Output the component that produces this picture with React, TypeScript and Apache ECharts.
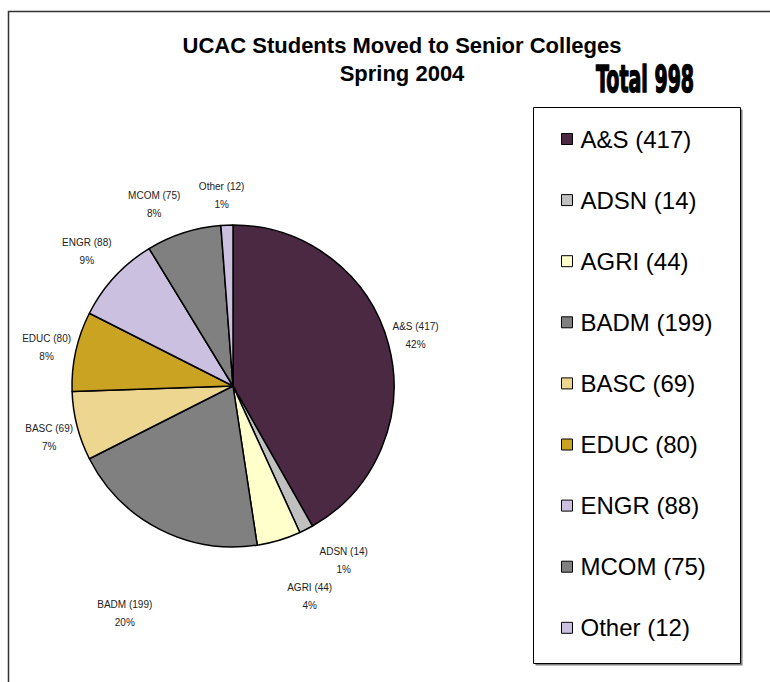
import React, { useEffect, useRef } from "react";
import * as echarts from "echarts";

const CATEGORIES = ["A&S", "ADSN", "AGRI", "BADM", "BASC", "EDUC", "ENGR", "MCOM", "Other"];
const VALUES = [417, 14, 44, 199, 69, 80, 88, 75, 12];
const COLORS = ["#4B2943", "#C0C0C0", "#FFFFCC", "#808080", "#EDD790", "#C9A321", "#CBC0DF", "#808080", "#CBC0DF"];
const TITLE = "UCAC Students Moved to Senior Colleges\nSpring 2004";
const TOTAL_TEXT = "Total 998";

// layout constants
const CX = 233;
const CY = 386;
const R = 161;
const LABEL_DIST = 195;
// small nudges of each slice label away from its radial anchor (layout only)
const LABEL_NUDGE = [
  [-6, -1],
  [22, 1],
  [21, 24],
  [-19, 54],
  [5, 3],
  [4, 4],
  [-3, -2],
  [-19, 4],
  [-4, 4],
];

export default function App() {
  const ref = useRef<HTMLDivElement>(null);
  useEffect(() => {
    if (!ref.current) return;
    const chart = echarts.init(ref.current, null, { renderer: "svg" });
    const total = VALUES.reduce((a, b) => a + b, 0);
    const font = "'Liberation Sans', Arial, sans-serif";
    chart.setOption({
      animation: false,
      backgroundColor: "#ffffff",
      title: {
        text: TITLE,
        left: 397,
        top: 26,
        textAlign: "center",
        textStyle: { fontFamily: font, fontSize: 22, fontWeight: "bold", color: "#000", lineHeight: 28 },
      },
      graphic: [
        {
          type: "rect",
          shape: { x: 8.5, y: 11.5, width: 900, height: 900 },
          style: { fill: "none", stroke: "#333", lineWidth: 1.5 },
          silent: true,
        },
        {
          type: "rect",
          shape: { x: 535.5, y: 109.5, width: 207, height: 556 },
          style: { fill: "#808080" },
          silent: true,
          z: -1,
        },
        {
          type: "rect",
          shape: { x: 533.5, y: 107.5, width: 207, height: 556 },
          style: { fill: "#fff", stroke: "#000", lineWidth: 1 },
          silent: true,
          z: -1,
        },
        {
          type: "text",
          x: 645,
          y: 79,
          scaleX: 0.5,
          style: {
            text: TOTAL_TEXT,
            fontFamily: "'DejaVu Sans', sans-serif",
            fontWeight: "bold",
            fontSize: 38,
            fill: "#000",
            stroke: "#000",
            lineWidth: 1.6,
            textAlign: "center",
            textVerticalAlign: "middle",
          },
        },
      ],
      legend: {
        orient: "vertical",
        left: 556,
        top: 122,
        itemWidth: 11,
        itemHeight: 11,
        itemGap: 37.1,
        icon: "rect",
        itemStyle: { borderColor: "#000", borderWidth: 1 },
        formatter: (name: string) => `${name} (${VALUES[CATEGORIES.indexOf(name)]})`,
        textStyle: { fontFamily: font, fontSize: 24, color: "#000", lineHeight: 24, padding: [0, 0, 0, 3] },
        data: CATEGORIES,
      },
      series: [
        {
          type: "pie",
          center: [CX, CY],
          radius: R,
          startAngle: 90,
          clockwise: true,
          percentPrecision: 0,
          avoidLabelOverlap: false,
          itemStyle: { borderColor: "#000", borderWidth: 1.5 },
          label: {
            show: true,
            position: "outside",
            formatter: "{b} ({c})\n{d}%",
            fontFamily: font,
            fontSize: 10,
            lineHeight: 18,
            color: "#222",
          },
          labelLine: { show: false },
          labelLayout: (p: any) => {
            const i = p.dataIndex;
            let before = 0;
            for (let k = 0; k < i; k++) before += VALUES[k];
            const mid = ((before + VALUES[i] / 2) / total) * 2 * Math.PI;
            return {
              x: CX + LABEL_DIST * Math.sin(mid) + LABEL_NUDGE[i][0],
              y: CY - LABEL_DIST * Math.cos(mid) + LABEL_NUDGE[i][1],
              align: "center",
              verticalAlign: "middle",
            };
          },
          emphasis: { disabled: true },
          data: CATEGORIES.map((name, i) => ({
            name,
            value: VALUES[i],
            itemStyle: { color: COLORS[i] },
          })),
        },
      ],
    });
    return () => chart.dispose();
  }, []);
  return (
    <div
      ref={ref}
      style={{ position: "absolute", left: 0, top: 0, width: 770, height: 682, background: "#fff" }}
    />
  );
}
